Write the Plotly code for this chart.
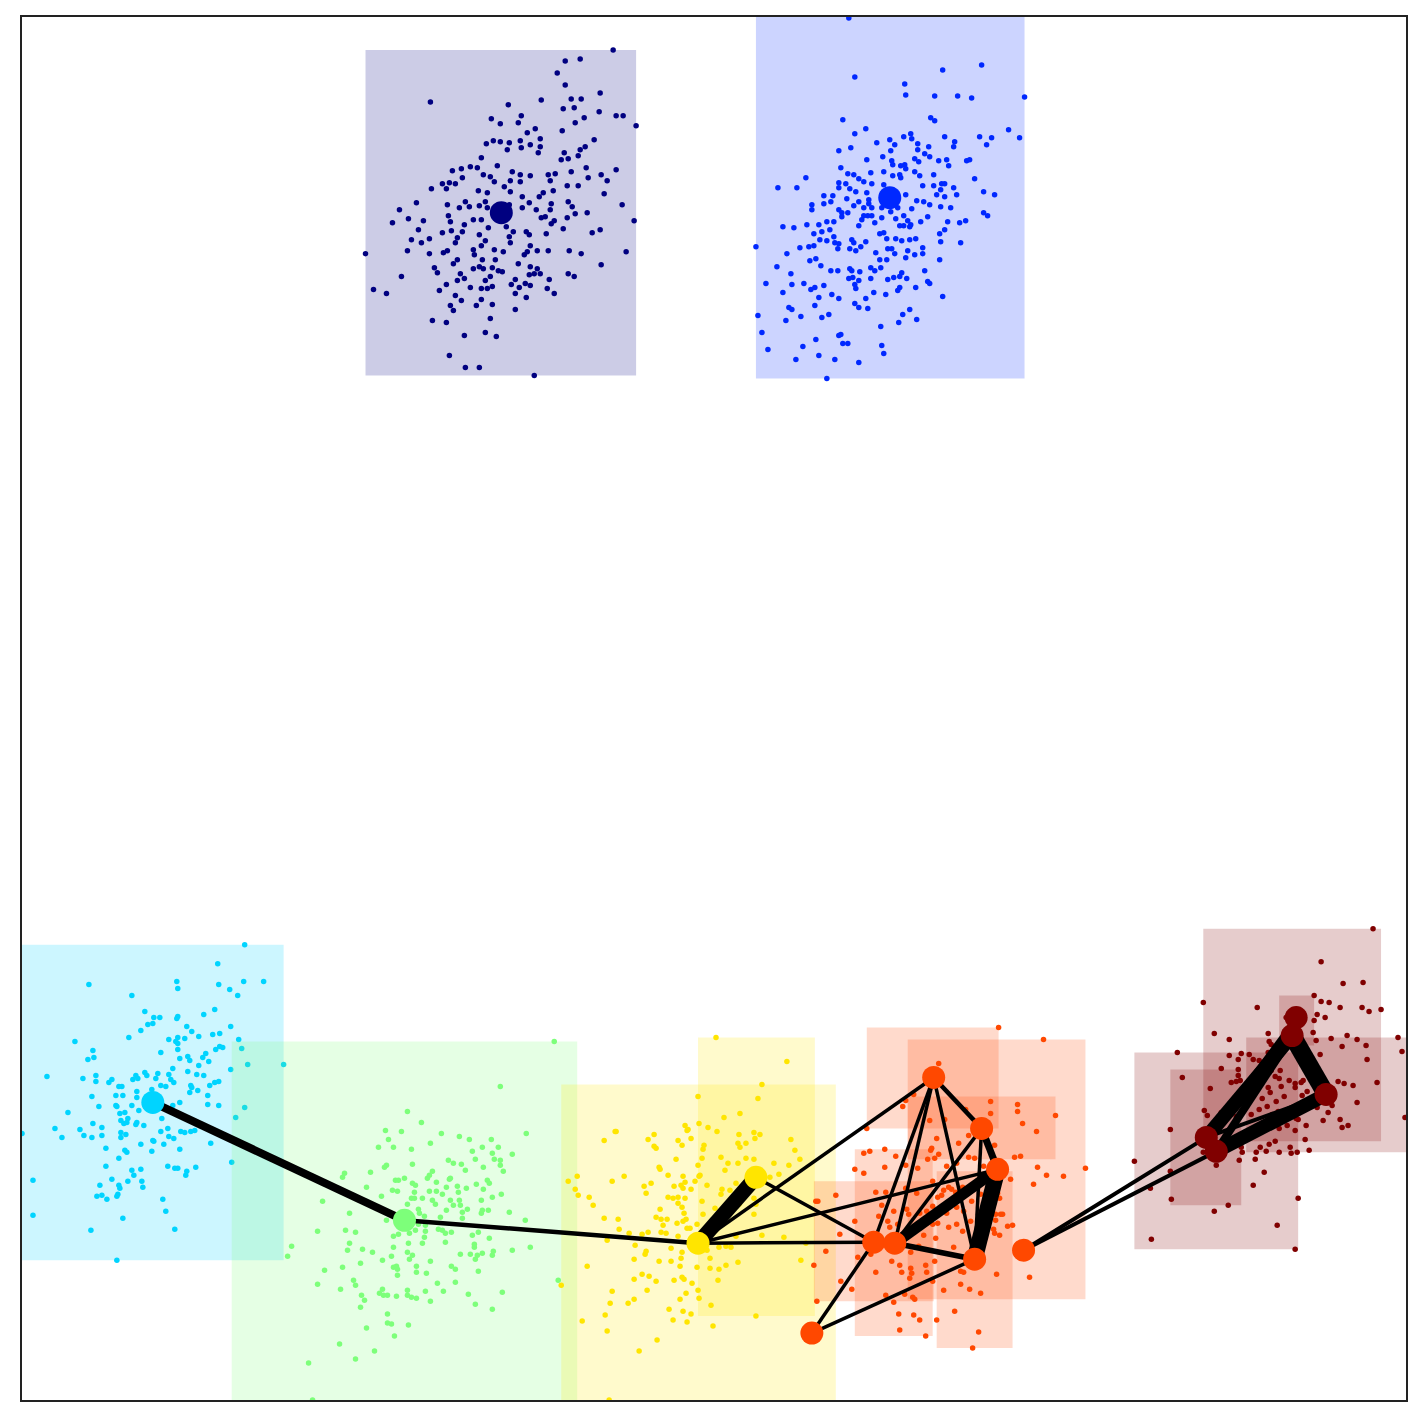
import plotly.graph_objects as go

# cluster colours (jet-like)
colors = {
    "navy": "#000080",
    "blue": "#0028ff",
    "cyan": "#00d4ff",
    "green": "#7dff7a",
    "yellow": "#ffe500",
    "orange": "#ff4800",
    "dred": "#800000",
}
cluster_order = ["navy", "blue", "cyan", "green", "yellow", "orange", "dred"]

# bounding boxes (x0, x1, y0, y1) per cluster, in pixel-like units (y downwards)
rects = {
    "navy": [(366, 637, 48, 374)],
    "blue": [(757, 1026, 0, 377)],
    "cyan": [(0, 284, 944, 1260)],
    "green": [(232, 578, 1041, 1440)],
    "yellow": [(562, 837, 1084, 1430), (699, 816, 1037, 1316)],
    "orange": [(868, 1000, 1027, 1128), (909, 1087, 1039, 1299), (909, 1057, 1096, 1159),
               (856, 934, 1149, 1336), (815, 935, 1181, 1301), (938, 1014, 1171, 1348)],
    "dred": [(1205, 1383, 928, 1141), (1136, 1300, 1052, 1249), (1172, 1243, 1069, 1205),
             (1281, 1316, 995, 1045), (1248, 1430, 1037, 1152)],
}

navy_pts = [
    (614, 48), (566, 59), (581, 57), (558, 71), (566, 83), (601, 91), (431, 100), (509, 103), (542, 98),
    (572, 97), (582, 97), (564, 107), (575, 106), (617, 114), (624, 114), (637, 124), (600, 110), (585, 116),
    (492, 117), (501, 122), (522, 114), (519, 121), (536, 127), (528, 131), (576, 121), (563, 129), (595, 138),
    (487, 142), (494, 139), (501, 140), (510, 141), (521, 139), (541, 137), (508, 148), (522, 146), (531, 143),
    (541, 145), (539, 151), (586, 145), (581, 148), (565, 151), (579, 154), (482, 156), (562, 158), (569, 157),
    (498, 164), (471, 165), (478, 166), (453, 169), (462, 167), (463, 176), (513, 170), (484, 173), (491, 175),
    (521, 173), (531, 174), (549, 173), (556, 172), (572, 170), (587, 166), (617, 168), (602, 173), (608, 179),
    (589, 176), (443, 182), (450, 181), (456, 182), (447, 187), (432, 187), (495, 180), (505, 185), (511, 179),
    (521, 180), (511, 190), (479, 189), (488, 191), (551, 179), (579, 184), (568, 184), (554, 189), (605, 192),
    (544, 191), (540, 195), (523, 195), (417, 201), (400, 208), (409, 217), (393, 221), (424, 219), (419, 228),
    (448, 203), (460, 206), (466, 200), (470, 205), (480, 204), (486, 200), (488, 206), (449, 214), (451, 220),
    (465, 223), (474, 218), (482, 218), (510, 203), (523, 206), (530, 201), (537, 208), (542, 216), (551, 208),
    (552, 202), (546, 215), (569, 200), (573, 205), (576, 212), (588, 211), (568, 216), (552, 222), (555, 219),
    (564, 227), (593, 231), (601, 228), (623, 203), (635, 219), (627, 250), (602, 263), (582, 252), (570, 249),
    (569, 272), (575, 275), (366, 252), (374, 288), (387, 292), (402, 275), (412, 238), (408, 249), (422, 241),
    (430, 252), (430, 237), (443, 231), (452, 229), (456, 241), (444, 251), (448, 249), (463, 230), (458, 236),
    (480, 233), (489, 226), (486, 239), (474, 248), (482, 244), (475, 253), (495, 248), (504, 250), (507, 225),
    (514, 230), (510, 235), (511, 241), (527, 230), (530, 233), (531, 244), (528, 250), (538, 249), (549, 249),
    (547, 232), (525, 253), (519, 262), (496, 258), (483, 258), (435, 266), (438, 271), (454, 262), (458, 258),
    (447, 283), (440, 289), (461, 272), (465, 277), (458, 279), (474, 267), (480, 265), (484, 267), (493, 266),
    (499, 269), (503, 270), (486, 279), (491, 275), (471, 286), (482, 287), (488, 287), (493, 285), (512, 283),
    (516, 278), (520, 286), (526, 282), (531, 284), (530, 273), (535, 272), (541, 272), (531, 265), (538, 267),
    (550, 278), (548, 287), (555, 292), (527, 296), (516, 292), (516, 308), (493, 303), (482, 298), (477, 304),
    (462, 299), (456, 294), (451, 304), (454, 309), (433, 319), (447, 321), (491, 317), (465, 334), (486, 331),
    (497, 335), (450, 354), (466, 366), (480, 366), (535, 374),
]

blue_pts = [
    (850, 16), (983, 63), (944, 68), (856, 75), (906, 82), (907, 93), (936, 94), (959, 94), (973, 96),
    (1026, 95), (844, 118), (932, 116), (936, 119), (1010, 128), (1021, 136), (981, 135), (993, 136), (988, 143),
    (856, 132), (867, 127), (912, 132), (913, 137), (905, 135), (946, 135), (956, 140), (955, 145), (878, 141),
    (891, 138), (896, 143), (919, 142), (919, 148), (930, 145), (926, 152), (931, 155), (840, 149), (852, 146),
    (892, 149), (884, 155), (868, 158), (893, 159), (894, 163), (916, 157), (920, 160), (940, 159), (948, 158),
    (950, 164), (968, 159), (971, 158), (976, 177), (842, 166), (849, 172), (855, 173), (872, 171), (885, 170),
    (894, 174), (902, 164), (906, 163), (907, 167), (901, 173), (902, 176), (916, 170), (921, 174), (935, 173),
    (807, 176), (779, 186), (798, 186), (840, 181), (847, 182), (860, 177), (865, 180), (873, 182), (885, 183),
    (924, 184), (935, 184), (943, 182), (946, 182), (955, 186), (942, 188), (938, 193), (946, 195), (958, 193),
    (985, 190), (996, 193), (825, 194), (834, 194), (840, 186), (851, 187), (857, 190), (868, 191), (848, 197),
    (832, 200), (825, 202), (813, 203), (813, 208), (870, 198), (870, 202), (860, 200), (855, 204), (865, 206),
    (873, 206), (883, 206), (899, 206), (907, 193), (918, 199), (925, 200), (931, 203), (913, 207), (942, 205),
    (952, 206), (840, 208), (843, 211), (849, 211), (843, 215), (865, 214), (863, 218), (869, 214), (873, 214),
    (892, 210), (883, 216), (905, 214), (897, 217), (909, 219), (912, 223), (922, 220), (929, 215), (949, 220),
    (961, 221), (967, 219), (985, 211), (989, 214), (784, 225), (795, 226), (808, 223), (820, 223), (828, 220),
    (835, 220), (831, 228), (823, 230), (815, 232), (821, 238), (828, 239), (835, 235), (836, 241), (840, 242),
    (839, 247), (860, 224), (876, 221), (901, 224), (905, 224), (911, 225), (885, 231), (881, 232), (888, 237),
    (897, 237), (903, 239), (911, 238), (917, 237), (946, 228), (941, 232), (942, 240), (962, 241), (853, 238),
    (855, 241), (867, 240), (862, 245), (851, 247), (857, 249), (877, 251), (889, 247), (893, 247), (896, 252),
    (907, 256), (909, 249), (916, 253), (924, 246), (924, 252), (941, 258), (757, 245), (788, 252), (801, 246),
    (810, 245), (815, 244), (811, 259), (817, 257), (822, 264), (778, 265), (792, 272), (832, 269), (839, 269),
    (851, 267), (853, 269), (861, 270), (872, 266), (876, 269), (882, 266), (881, 258), (888, 258), (889, 278),
    (895, 276), (901, 275), (903, 271), (908, 277), (926, 269), (929, 280), (931, 282), (850, 277), (854, 276),
    (860, 279), (856, 283), (857, 287), (872, 277), (899, 289), (901, 286), (917, 286), (767, 282), (784, 291),
    (793, 283), (805, 282), (812, 288), (816, 286), (825, 284), (833, 293), (840, 297), (820, 296), (816, 304),
    (856, 302), (860, 306), (867, 297), (869, 307), (875, 291), (887, 293), (944, 295), (790, 306), (793, 308),
    (802, 315), (787, 319), (759, 314), (763, 331), (769, 348), (823, 316), (830, 313), (817, 338), (804, 345),
    (820, 354), (797, 358), (836, 358), (840, 334), (842, 333), (844, 342), (849, 342), (860, 361), (882, 325),
    (883, 344), (885, 352), (900, 321), (904, 313), (911, 308), (918, 318), (828, 377),
    (886, 190), (896, 192), (889, 200), (897, 199), (884, 197),
]

cyan_pts = [
    (245, 944), (218, 963), (89, 984), (177, 981), (178, 988), (219, 984), (244, 981), (264, 981), (230, 989),
    (238, 995), (132, 995), (145, 1011), (154, 1017), (160, 1017), (148, 1024), (153, 1023), (141, 1030),
    (129, 1037), (177, 1018), (178, 1016), (204, 1014), (215, 1009), (231, 1026), (187, 1026), (192, 1031),
    (199, 1036), (213, 1034), (220, 1033), (75, 1041), (93, 1050), (88, 1059), (94, 1057), (169, 1039),
    (178, 1037), (176, 1041), (178, 1043), (185, 1038), (178, 1049), (161, 1052), (180, 1058), (188, 1056),
    (190, 1060), (199, 1065), (203, 1057), (206, 1053), (209, 1061), (216, 1049), (220, 1046), (223, 1047),
    (239, 1039), (47, 1076), (83, 1078), (96, 1075), (96, 1081), (109, 1082), (112, 1079), (133, 1079),
    (136, 1075), (138, 1078), (145, 1072), (147, 1075), (158, 1073), (156, 1078), (169, 1074), (173, 1068),
    (171, 1079), (174, 1082), (188, 1071), (197, 1074), (204, 1075), (215, 1082), (219, 1081), (210, 1085),
    (191, 1085), (192, 1087), (190, 1092), (198, 1090), (208, 1095), (208, 1104), (219, 1105), (231, 1069),
    (92, 1096), (99, 1106), (68, 1112), (116, 1095), (123, 1095), (119, 1086), (122, 1086), (116, 1105),
    (117, 1106), (125, 1112), (120, 1113), (132, 1105), (137, 1097), (137, 1091), (139, 1110), (152, 1089),
    (161, 1085), (166, 1086), (180, 1102), (173, 1105), (162, 1118), (121, 1120), (128, 1118), (124, 1123),
    (127, 1122), (136, 1124), (137, 1122), (144, 1125), (22, 1133), (55, 1128), (62, 1137), (80, 1129),
    (84, 1135), (93, 1123), (92, 1137), (102, 1127), (102, 1135), (121, 1132), (126, 1134), (121, 1137),
    (161, 1131), (168, 1128), (169, 1136), (174, 1138), (181, 1131), (185, 1132), (191, 1131), (195, 1130),
    (211, 1143), (106, 1148), (119, 1158), (125, 1150), (127, 1152), (141, 1144), (152, 1151), (153, 1140),
    (154, 1141), (164, 1144), (180, 1149), (106, 1166), (132, 1170), (134, 1175), (141, 1169), (168, 1166),
    (175, 1168), (178, 1168), (187, 1171), (186, 1175), (196, 1167), (33, 1180), (100, 1185), (97, 1196),
    (102, 1195), (107, 1199), (112, 1179), (119, 1185), (120, 1188), (118, 1194), (117, 1196), (128, 1181),
    (142, 1181), (143, 1187), (163, 1199), (166, 1211), (123, 1218), (33, 1215), (91, 1230), (175, 1229),
    (117, 1260), (232, 1162), (236, 1117), (245, 1107), (248, 1064), (284, 1064), (242, 1048),
]

green_pts = [
    (555, 1041), (501, 1086), (408, 1111), (422, 1122), (386, 1130), (402, 1131), (442, 1133), (527, 1133),
    (389, 1139), (379, 1147), (394, 1147), (412, 1149), (431, 1143), (460, 1136), (470, 1139), (492, 1139),
    (483, 1147), (499, 1147), (473, 1151), (493, 1153), (513, 1154), (476, 1159), (495, 1159), (501, 1160),
    (501, 1165), (504, 1171), (449, 1160), (454, 1163), (462, 1164), (466, 1170), (484, 1167), (413, 1164),
    (387, 1165), (385, 1167), (345, 1173), (343, 1177), (371, 1172), (367, 1187), (396, 1180), (399, 1180),
    (405, 1178), (413, 1183), (416, 1185), (428, 1178), (433, 1171), (430, 1175), (437, 1182), (450, 1179),
    (451, 1178), (458, 1186), (467, 1188), (477, 1184), (484, 1189), (488, 1180), (490, 1183), (502, 1194),
    (493, 1197), (510, 1212), (393, 1190), (398, 1191), (415, 1192), (430, 1191), (437, 1191), (443, 1194),
    (447, 1187), (459, 1192), (382, 1196), (323, 1201), (350, 1213), (412, 1198), (415, 1198), (408, 1204),
    (423, 1198), (433, 1200), (436, 1204), (451, 1200), (460, 1200), (454, 1205), (461, 1205), (447, 1210),
    (468, 1209), (463, 1212), (463, 1218), (482, 1200), (483, 1210), (482, 1213), (489, 1210), (419, 1209),
    (420, 1213), (425, 1216), (441, 1217), (387, 1220), (419, 1224), (426, 1225), (439, 1229), (443, 1230),
    (446, 1233), (452, 1232), (446, 1242), (416, 1230), (426, 1231), (410, 1233), (399, 1234), (394, 1236),
    (409, 1243), (423, 1243), (425, 1237), (473, 1235), (479, 1232), (490, 1238), (475, 1244), (475, 1247),
    (513, 1250), (531, 1247), (526, 1220), (318, 1231), (346, 1230), (356, 1232), (350, 1243), (348, 1250),
    (363, 1249), (373, 1252), (292, 1246), (288, 1256), (394, 1247), (392, 1256), (408, 1252), (410, 1259),
    (413, 1255), (383, 1260), (431, 1261), (461, 1254), (471, 1254), (476, 1259), (478, 1255), (483, 1253),
    (493, 1255), (494, 1251), (361, 1263), (343, 1267), (325, 1270), (394, 1267), (397, 1266), (398, 1269),
    (398, 1275), (417, 1266), (417, 1272), (427, 1273), (452, 1266), (456, 1269), (479, 1271), (318, 1284),
    (341, 1289), (354, 1280), (356, 1285), (362, 1295), (365, 1300), (361, 1307), (380, 1293), (383, 1289),
    (384, 1295), (388, 1295), (397, 1296), (408, 1290), (408, 1295), (412, 1297), (417, 1298), (426, 1291),
    (431, 1301), (438, 1283), (444, 1291), (456, 1282), (469, 1294), (476, 1304), (493, 1309), (503, 1292),
    (559, 1280), (388, 1314), (388, 1323), (392, 1324), (409, 1325), (367, 1328), (395, 1336), (340, 1344),
    (375, 1351), (356, 1359), (309, 1363), (313, 1400),
]

yellow_pts = [
    (717, 1037), (788, 1061), (763, 1084), (759, 1098), (699, 1096), (741, 1113), (725, 1117), (718, 1131),
    (709, 1127), (700, 1123), (686, 1125), (688, 1130), (689, 1129), (692, 1138), (679, 1140), (683, 1145),
    (649, 1139), (655, 1134), (655, 1146), (657, 1148), (605, 1140), (616, 1131), (617, 1131), (740, 1134),
    (739, 1143), (747, 1143), (741, 1147), (755, 1132), (756, 1138), (761, 1134), (792, 1139), (796, 1150),
    (801, 1159), (790, 1165), (780, 1174), (775, 1163), (771, 1177), (705, 1145), (704, 1149), (703, 1158),
    (677, 1159), (722, 1157), (729, 1163), (739, 1163), (747, 1158), (755, 1159), (699, 1165), (726, 1170),
    (660, 1167), (661, 1169), (669, 1175), (684, 1176), (700, 1176), (701, 1175), (696, 1181), (708, 1185),
    (686, 1182), (682, 1185), (684, 1188), (675, 1186), (692, 1189), (645, 1186), (652, 1183), (647, 1193),
    (613, 1181), (625, 1176), (569, 1181), (578, 1176), (576, 1189), (579, 1195), (590, 1197), (594, 1205),
    (669, 1197), (674, 1198), (679, 1197), (686, 1198), (679, 1203), (683, 1207), (703, 1201), (723, 1189),
    (722, 1194), (731, 1190), (736, 1194), (737, 1183), (740, 1204), (755, 1198), (757, 1204), (755, 1214),
    (661, 1209), (657, 1217), (662, 1219), (668, 1219), (664, 1225), (685, 1213), (687, 1219), (684, 1221),
    (678, 1223), (688, 1228), (691, 1228), (698, 1224), (704, 1214), (716, 1208), (605, 1218), (619, 1219),
    (620, 1229), (630, 1233), (643, 1234), (649, 1232), (662, 1232), (667, 1233), (679, 1236), (608, 1240),
    (636, 1245), (720, 1247), (727, 1246), (732, 1247), (737, 1236), (763, 1235), (785, 1237), (807, 1243),
    (672, 1248), (647, 1251), (646, 1254), (683, 1252), (682, 1258), (708, 1250), (711, 1258), (739, 1262),
    (727, 1265), (720, 1269), (711, 1268), (698, 1267), (681, 1266), (672, 1261), (660, 1261), (635, 1259),
    (588, 1266), (802, 1260), (635, 1279), (643, 1274), (650, 1276), (657, 1281), (675, 1280), (683, 1277),
    (685, 1279), (693, 1283), (719, 1280), (699, 1290), (648, 1290), (613, 1291), (687, 1293), (700, 1298),
    (681, 1299), (635, 1299), (629, 1303), (611, 1303), (712, 1305), (670, 1309), (684, 1311), (692, 1314),
    (606, 1315), (757, 1316), (674, 1320), (688, 1322), (583, 1321), (714, 1326), (608, 1331), (658, 1340),
    (640, 1351), (610, 1400), (562, 1285),
]

orange_pts = [
    (1000, 1027), (1045, 1039), (940, 1063), (915, 1094), (907, 1100), (904, 1106), (868, 1128), (931, 1120),
    (946, 1119), (992, 1101), (992, 1113), (1019, 1104), (1019, 1111), (1024, 1123), (1057, 1115), (1038, 1131),
    (970, 1135), (996, 1145), (967, 1109), (938, 1138), (960, 1143), (933, 1148), (932, 1150), (940, 1154),
    (936, 1158), (929, 1159), (897, 1156), (886, 1149), (871, 1151), (865, 1153), (856, 1169), (865, 1173),
    (886, 1167), (907, 1165), (919, 1168), (948, 1166), (958, 1163), (970, 1157), (976, 1158), (985, 1166),
    (1016, 1157), (1022, 1156), (1039, 1167), (1048, 1175), (1065, 1176), (1087, 1168), (1035, 1184),
    (1012, 1179), (877, 1192), (887, 1192), (837, 1195), (817, 1201), (819, 1201), (907, 1188), (918, 1193),
    (934, 1181), (939, 1197), (943, 1195), (945, 1190), (950, 1187), (953, 1189), (957, 1192), (964, 1187),
    (972, 1191), (973, 1201), (982, 1194), (999, 1193), (1001, 1198), (883, 1205), (895, 1211), (908, 1209),
    (910, 1214), (921, 1213), (928, 1211), (934, 1206), (937, 1216), (948, 1213), (958, 1207), (965, 1211),
    (980, 1214), (997, 1214), (1002, 1214), (1004, 1214), (997, 1220), (856, 1221), (880, 1216), (889, 1221),
    (899, 1224), (934, 1224), (939, 1223), (950, 1227), (958, 1224), (964, 1231), (972, 1221), (980, 1224),
    (995, 1229), (996, 1233), (1001, 1235), (1009, 1226), (1014, 1225), (841, 1234), (891, 1227), (925, 1235),
    (937, 1238), (827, 1251), (859, 1257), (872, 1254), (912, 1252), (920, 1246), (955, 1247), (893, 1261),
    (901, 1265), (912, 1268), (903, 1272), (911, 1278), (913, 1273), (927, 1265), (928, 1272), (936, 1261),
    (934, 1281), (962, 1271), (965, 1272), (962, 1284), (971, 1289), (982, 1293), (998, 1274), (1031, 1277),
    (815, 1265), (842, 1281), (853, 1289), (877, 1272), (887, 1295), (895, 1302), (906, 1294), (914, 1297),
    (916, 1299), (945, 1290), (818, 1301), (900, 1314), (915, 1315), (921, 1320), (938, 1320), (956, 1311),
    (901, 1330), (927, 1336), (980, 1332), (974, 1348),
]

dred_pts = [
    (1375, 928), (1323, 961), (1345, 983), (1365, 982), (1205, 1002), (1259, 1007), (1316, 995), (1323, 1001),
    (1331, 1002), (1342, 1007), (1364, 1007), (1371, 1011), (1383, 1009), (1319, 1014), (1327, 1017),
    (1316, 1020), (1288, 1017), (1315, 1032), (1318, 1040), (1333, 1038), (1349, 1035), (1359, 1039),
    (1368, 1045), (1344, 1046), (1400, 1037), (1404, 1051), (1216, 1033), (1231, 1039), (1270, 1033),
    (1271, 1041), (1273, 1044), (1179, 1052), (1243, 1053), (1231, 1055), (1240, 1059), (1251, 1054),
    (1255, 1059), (1270, 1052), (1261, 1060), (1322, 1054), (1369, 1059), (1223, 1068), (1240, 1069),
    (1240, 1075), (1242, 1080), (1233, 1082), (1238, 1081), (1184, 1077), (1273, 1070), (1277, 1076),
    (1281, 1078), (1282, 1070), (1291, 1080), (1297, 1083), (1297, 1087), (1303, 1082), (1305, 1080),
    (1283, 1086), (1270, 1087), (1272, 1092), (1264, 1098), (1278, 1101), (1286, 1096), (1304, 1095),
    (1309, 1091), (1212, 1088), (1340, 1081), (1346, 1083), (1355, 1085), (1379, 1082), (1359, 1102),
    (1334, 1105), (1330, 1112), (1325, 1120), (1342, 1119), (1344, 1127), (1350, 1125), (1319, 1107),
    (1206, 1110), (1209, 1115), (1223, 1112), (1230, 1114), (1238, 1116), (1253, 1114), (1269, 1106),
    (1261, 1109), (1274, 1114), (1280, 1111), (1289, 1116), (1298, 1118), (1300, 1119), (1308, 1125),
    (1281, 1128), (1289, 1125), (1297, 1130), (1172, 1129), (1263, 1130), (1243, 1147), (1244, 1152),
    (1241, 1160), (1262, 1147), (1271, 1144), (1277, 1141), (1268, 1151), (1258, 1152), (1257, 1159),
    (1281, 1152), (1292, 1147), (1293, 1153), (1299, 1152), (1307, 1139), (1311, 1150), (1205, 1152),
    (1218, 1165), (1136, 1161), (1172, 1171), (1152, 1188), (1266, 1172), (1255, 1185), (1173, 1199),
    (1230, 1205), (1216, 1211), (1300, 1198), (1279, 1225), (1153, 1239), (1297, 1249), (1407, 1117),
]

points = {
    "navy": navy_pts, "blue": blue_pts, "cyan": cyan_pts, "green": green_pts,
    "yellow": yellow_pts, "orange": orange_pts, "dred": dred_pts,
}

# graph nodes: name -> (x, y, cluster)
nodes = {
    "n0": (502, 211, "navy"),
    "b0": (891, 196, "blue"),
    "c0": (153, 1102, "cyan"),
    "g0": (405, 1220, "green"),
    "y0": (699, 1243, "yellow"),
    "y1": (757, 1177, "yellow"),
    "o0": (935, 1077, "orange"),
    "o1": (983, 1128, "orange"),
    "o2": (999, 1169, "orange"),
    "o3": (875, 1242, "orange"),
    "o4": (896, 1243, "orange"),
    "o5": (976, 1259, "orange"),
    "o6": (1025, 1250, "orange"),
    "o7": (813, 1333, "orange"),
    "r0": (1298, 1017, "dred"),
    "r1": (1294, 1035, "dred"),
    "r2": (1328, 1094, "dred"),
    "r3": (1208, 1137, "dred"),
    "r4": (1218, 1151, "dred"),
}

# edges: (from, to, weight)
edges = [
    ("c0", "g0", 8), ("g0", "y0", 4.5), ("y0", "y1", 15),
    ("y0", "o0", 3.5), ("y0", "o2", 3.5), ("y0", "o3", 3.5), ("y1", "o3", 3.5),
    ("o0", "o3", 3.5), ("o0", "o4", 3.5), ("o0", "o1", 4.5), ("o0", "o5", 3.5),
    ("o1", "o4", 3.5), ("o1", "o2", 7), ("o1", "o5", 3.5),
    ("o2", "o4", 11), ("o2", "o5", 16), ("o4", "o5", 5.5),
    ("o3", "o7", 3.5), ("o5", "o7", 3.5),
    ("o6", "r3", 4), ("o6", "r4", 4),
    ("r0", "r3", 4), ("r1", "r3", 14), ("r1", "r4", 8), ("r1", "r2", 18),
    ("r2", "r3", 4), ("r2", "r4", 14),
]

fig = go.Figure()

# clusters: boxes then sample points, drawn in order
for name in cluster_order:
    col = colors[name]
    for (x0, x1, y0, y1) in rects[name]:
        fig.add_trace(go.Scatter(
            x=[x0, x1, x1, x0, x0], y=[y0, y0, y1, y1, y0],
            mode="lines", fill="toself", fillcolor=col, opacity=0.2,
            line=dict(width=0), hoverinfo="skip",
        ))
    pts = points[name]
    fig.add_trace(go.Scatter(
        x=[p[0] for p in pts], y=[p[1] for p in pts],
        mode="markers", marker=dict(color=col, size=5.5, line=dict(width=0)),
        hoverinfo="skip",
    ))

# edges
for a, b, w in edges:
    xa, ya, _ = nodes[a]
    xb, yb, _ = nodes[b]
    fig.add_trace(go.Scatter(
        x=[xa, xb], y=[ya, yb], mode="lines",
        line=dict(color="black", width=w), hoverinfo="skip",
    ))

# nodes
node_names = list(nodes)
fig.add_trace(go.Scatter(
    x=[nodes[n][0] for n in node_names],
    y=[nodes[n][1] for n in node_names],
    mode="markers",
    marker=dict(color=[colors[nodes[n][2]] for n in node_names], size=23, line=dict(width=0)),
    hoverinfo="skip",
))

axis_style = dict(showgrid=False, zeroline=False, showticklabels=False, ticks="",
                  showline=True, mirror=True, linecolor="#222222", linewidth=1.5)
fig.update_xaxes(range=[22, 1408], **axis_style)
fig.update_yaxes(range=[1400, 15], **axis_style)
# page body has an 8px margin, so the figure is shrunk and shifted accordingly
fig.update_layout(
    width=1407, height=1407,
    margin=dict(l=14, r=7, t=7, b=15),
    plot_bgcolor="white", paper_bgcolor="white",
    showlegend=False,
)

fig.write_html("out.html")
